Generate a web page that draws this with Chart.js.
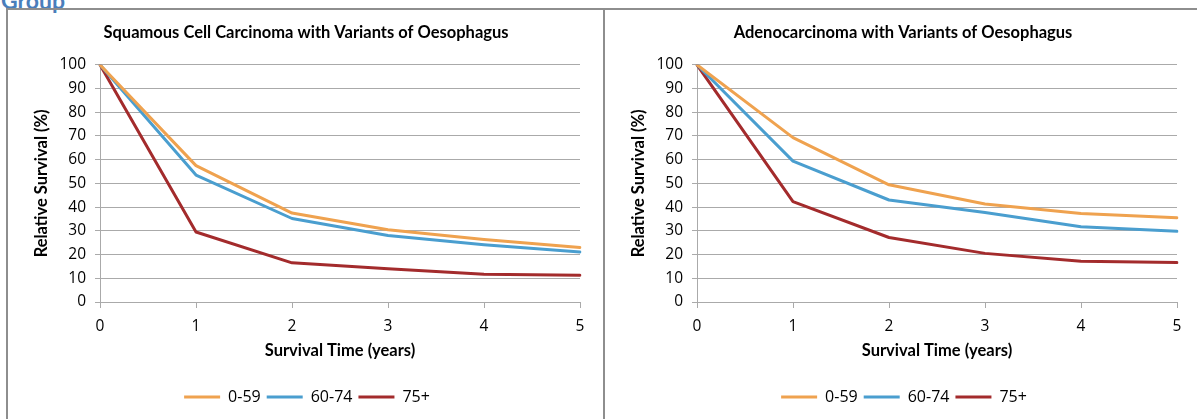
<!DOCTYPE html>
<html><head><meta charset="utf-8">
<script src="https://cdn.jsdelivr.net/npm/chart.js@4/dist/chart.umd.min.js"></script>
<style>
html,body{margin:0;padding:0;background:#fff;}
body{width:1197px;height:419px;overflow:hidden;position:relative;}
#hdr{position:absolute;left:1px;top:-11px;font:bold 23px Lato,sans-serif;line-height:22px;color:#4A7EBB;}
.panel{position:absolute;top:8px;height:430px;border-top:2px solid #8E8E8E;box-sizing:border-box;}
#p1{left:6px;width:599px;border-left:2px solid #8E8E8E;border-right:2px solid #8E8E8E;}
#p2{left:605px;width:600px;}
.panel canvas{position:absolute;left:0;top:0;}
</style></head>
<body>
<div id="hdr">Group</div>
<div class="panel" id="p1"><canvas id="c1" width="595" height="409"></canvas></div>
<div class="panel" id="p2"><canvas id="c2" width="595" height="409"></canvas></div>
<script>
const years = ['0','1','2','3','4','5'];
const yTicks = [0,10,20,30,40,50,60,70,80,90,100];
const seriesNames = ['0-59','60-74','75+'];
const seriesColors = ['#EFA24F','#4A9ECF','#A32B2C'];

const sccTitle = 'Squamous Cell Carcinoma with Variants of Oesophagus';
const scc_0_59  = [100, 57.5, 37.5, 30.5, 26.3, 23.0];
const scc_60_74 = [100, 53.5, 35.2, 28.0, 24.1, 21.1];
const scc_75p   = [100, 29.5, 16.5, 14.0, 11.7, 11.3];

const adcTitle = 'Adenocarcinoma with Variants of Oesophagus';
const adc_0_59  = [100, 69.3, 49.4, 41.3, 37.3, 35.5];
const adc_60_74 = [100, 59.4, 43.0, 37.7, 31.7, 29.8];
const adc_75p   = [100, 42.3, 27.2, 20.5, 17.2, 16.6];

const yTitle = 'Relative Survival (%)';
const xTitle = 'Survival Time (years)';

const TFONT = 'Lato, "Open Sans", sans-serif';
const NFONT = '"Open Sans", Lato, sans-serif';
const gridCol = '#AAAAAA';

const blockShift = {
  id: 'blockShift',
  afterLayout(chart) {
    if (chart.legend) { chart.legend.left += 13; chart.legend.right += 13; }
    if (chart.titleBlock) { chart.titleBlock.left += 12; chart.titleBlock.right += 12; }
  }
};

function makeChart(id, title, data) {
  new Chart(document.getElementById(id), {
    type: 'line',
    plugins: [blockShift],
    data: {
      labels: years,
      datasets: data.map((d, i) => ({
        label: seriesNames[i],
        data: d,
        borderColor: seriesColors[i],
        backgroundColor: seriesColors[i],
        borderWidth: 3,
        pointRadius: 0,
        tension: 0,
        borderJoinStyle: 'round',
        borderCapStyle: 'round'
      }))
    },
    options: {
      responsive: false,
      animation: false,
      devicePixelRatio: 1,
      layout: { padding: { left: 0, right: 23, top: 0, bottom: 4 } },
      plugins: {
        title: {
          display: true,
          text: title,
          color: '#000',
          font: { family: TFONT, size: 16.5, weight: 'bold' },
          padding: { top: 13, bottom: 22 }
        },
        legend: {
          position: 'bottom',
          labels: {
            color: '#000',
            font: { family: NFONT, size: 16 },
            boxWidth: 36,
            boxHeight: 3,
            padding: 6,
            generateLabels: (chart) => {
              const items = Chart.defaults.plugins.legend.labels.generateLabels(chart);
              items.forEach(it => { it.lineWidth = 0; });
              return items;
            }
          }
        },
        tooltip: { enabled: false }
      },
      scales: {
        x: {
          type: 'category',
          offset: false,
          grid: { drawOnChartArea: false, color: gridCol, tickLength: 6, lineWidth: 1 },
          border: { color: gridCol, width: 1 },
          ticks: { color: '#000', font: { family: NFONT, size: 15.5 }, padding: 9, maxRotation: 0 },
          title: { display: true, text: xTitle, color: '#000', font: { family: TFONT, size: 16.5, weight: 'bold' }, padding: { top: 0, bottom: 22 } },
          afterFit: s => { s.height = 81; }
        },
        y: {
          min: 0, max: 100,
          afterBuildTicks: s => { s.ticks = yTicks.map(v => ({ value: v })); },
          grid: { color: gridCol, tickLength: 5, lineWidth: 1 },
          border: { color: gridCol, width: 1 },
          ticks: { color: '#000', font: { family: NFONT, size: 15.5 }, padding: 9 },
          title: { display: true, text: yTitle, color: '#000', font: { family: TFONT, size: 16.5, weight: 'bold' }, padding: { top: 24, bottom: 0 } },
          afterFit: s => { s.width = 92; }
        }
      }
    }
  });
}

makeChart('c1', sccTitle, [scc_0_59, scc_60_74, scc_75p]);
makeChart('c2', adcTitle, [adc_0_59, adc_60_74, adc_75p]);
</script>
</body></html>
